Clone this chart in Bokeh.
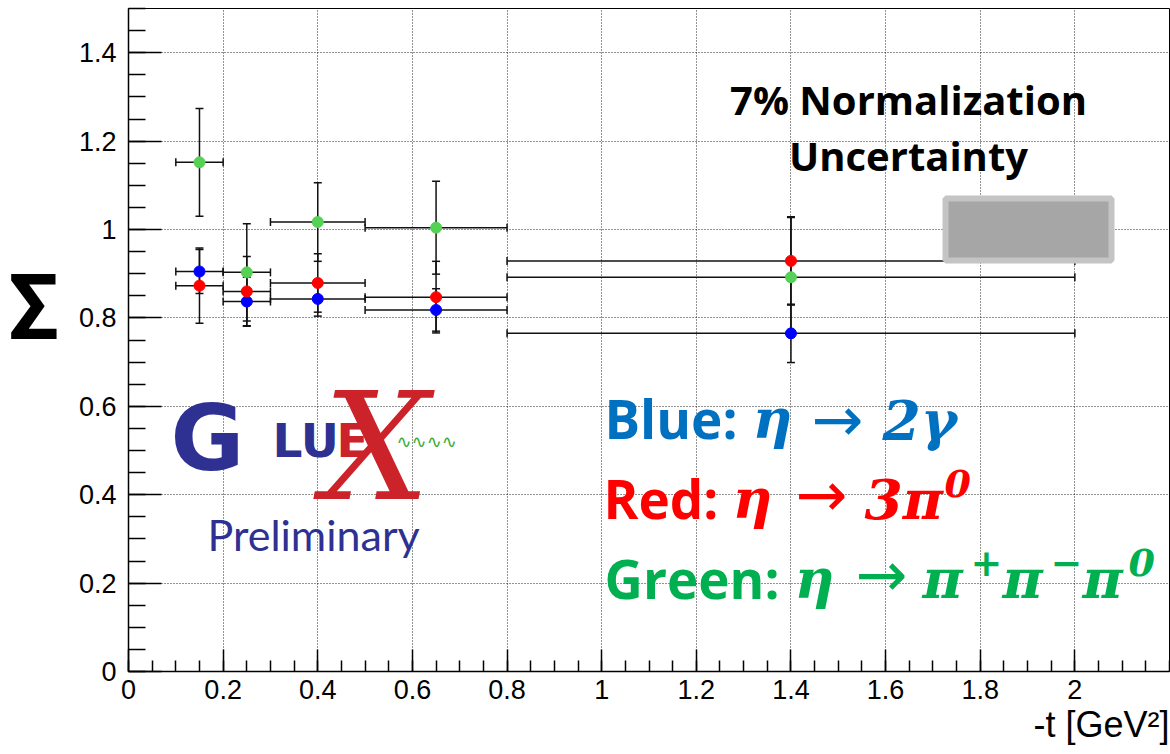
import numpy as np
from bokeh.plotting import figure
from bokeh.models import (ColumnDataSource, Whisker, TeeHead, Label, BoxAnnotation,
                          FixedTicker, CustomJSTickFormatter, Title)
from bokeh.embed import file_html
from bokeh.resources import INLINE

# ---------------- data ----------------
t_center = [0.15, 0.25, 0.40, 0.65, 1.40]
t_low = [0.10, 0.20, 0.30, 0.50, 0.80]
t_high = [0.20, 0.30, 0.50, 0.80, 2.00]

sigma_blue = [0.905, 0.837, 0.843, 0.818, 0.765]
err_blue = [0.050, 0.055, 0.039, 0.048, 0.066]

sigma_red = [0.873, 0.860, 0.879, 0.847, 0.929]
err_red = [0.085, 0.079, 0.066, 0.081, 0.100]

sigma_green = [1.152, 0.903, 1.017, 1.004, 0.892]
err_green = [0.122, 0.110, 0.089, 0.105, 0.135]

x_major = [0, 0.2, 0.4, 0.6, 0.8, 1.0, 1.2, 1.4, 1.6, 1.8, 2.0]
y_major = [0, 0.2, 0.4, 0.6, 0.8, 1.0, 1.2, 1.4]

norm_center = 1.0
norm_uncertainty = 0.07

# ---------------- layout ----------------
W, H = 1170, 754
L, R, T, B = 128, 1, 8, 83
X0, X1 = 0.0, 2.2
Y0, Y1 = 0.0, 1.5
FW, FH = W - L - R, H - T - B


def dx(px):
    return X0 + (px - L) / FW * (X1 - X0)


def dy(py):
    return Y0 + (H - B - py) / FH * (Y1 - Y0)


p = figure(width=W, height=H, x_range=(X0, X1), y_range=(Y0, Y1),
           output_backend="svg", toolbar_location=None,
           min_border_left=L, min_border_right=R, min_border_top=T, min_border_bottom=B)
p.background_fill_color = "white"
p.border_fill_color = "white"
p.outline_line_color = "black"
p.outline_line_width = 1

x_minor = [round(v, 2) for v in np.arange(0, 2.2001, 0.05)]
y_minor = [round(v, 2) for v in np.arange(0, 1.5001, 0.05)]
p.xaxis.ticker = FixedTicker(ticks=x_major, minor_ticks=x_minor)
p.yaxis.ticker = FixedTicker(ticks=y_major, minor_ticks=y_minor)
fmt = CustomJSTickFormatter(code="return (Math.round(tick*10)/10).toString();")
p.xaxis.formatter = fmt
p.yaxis.formatter = fmt

for ax in (p.xaxis[0], p.yaxis[0]):
    ax.axis_line_color = "black"
    ax.axis_line_width = 1.5
    ax.major_tick_line_color = "black"
    ax.minor_tick_line_color = "black"
    ax.major_tick_line_width = 1.5
    ax.minor_tick_line_width = 1.5
    ax.major_tick_out = 0
    ax.minor_tick_out = 0
    ax.major_label_text_font = "Liberation Sans"
    ax.major_label_text_font_size = "27px"
    ax.major_label_text_color = "black"

p.xaxis.major_tick_in = 22
p.xaxis.minor_tick_in = 11
p.xaxis.major_label_standoff = 8
p.yaxis.major_tick_in = 33
p.yaxis.minor_tick_in = 17
p.yaxis.major_label_standoff = 12

# y-axis title: big bold sigma, horizontal (a blank second line lifts it a little)
p.yaxis.axis_label = "\u03a3\n\u00a0"
p.yaxis.axis_label_orientation = "horizontal"
p.yaxis.axis_label_text_font = "Roboto"
p.yaxis.axis_label_text_font_size = "90px"
p.yaxis.axis_label_text_font_style = "bold"
p.yaxis.axis_label_text_color = "black"
p.yaxis.axis_label_text_line_height = 0.6
p.yaxis.axis_label_standoff = 17

# x-axis title, right aligned below the axis
xt = Title(text="-t [GeV\u00b2]", align="right", text_font="Liberation Sans",
           text_font_size="36px", text_font_style="normal", text_color="black",
           standoff=0, offset=0)
p.add_layout(xt, "below")

for g in (p.xgrid[0], p.ygrid[0]):
    g.grid_line_color = "black"
    g.grid_line_dash = "1 2"
    g.grid_line_width = 1
    g.grid_line_alpha = 0.85

# ---------------- error bars + markers ----------------
series = [
    (sigma_blue, err_blue, "#0000FF"),
    (sigma_red, err_red, "#FF0000"),
    (sigma_green, err_green, "#55D155"),
]

for vals, errs, col in series:
    v = np.array(vals)
    e = np.array(errs)
    src = ColumnDataSource(dict(t=t_center, tl=t_low, th=t_high, y=v, yl=v - e, yh=v + e))
    wv = Whisker(base="t", lower="yl", upper="yh", source=src, dimension="height",
                 line_color="#111111", line_width=1.5,
                 upper_head=TeeHead(size=8, line_color="#111111", line_width=1.5),
                 lower_head=TeeHead(size=8, line_color="#111111", line_width=1.5))
    wh = Whisker(base="y", lower="tl", upper="th", source=src, dimension="width",
                 line_color="#111111", line_width=1.5,
                 upper_head=TeeHead(size=8, line_color="#111111", line_width=1.5),
                 lower_head=TeeHead(size=8, line_color="#111111", line_width=1.5))
    p.add_layout(wv)
    p.add_layout(wh)

for vals, errs, col in series:
    p.scatter(t_center, vals, marker="circle", size=11, fill_color=col, line_color=col)

# ---------------- normalization box ----------------
box = BoxAnnotation(left=dx(945), right=dx(1111),
                    bottom=norm_center - norm_uncertainty, top=norm_center + norm_uncertainty,
                    fill_color="#A6A6A6", fill_alpha=1.0, line_color="#C4C4C4", line_width=6,
                    line_alpha=1.0)
p.add_layout(box)

BASE_SHIFT = 0.37  # Bokeh places the alphabetic baseline ~0.37 em lower than requested


def lab(text, px, py, font, size, color, style="bold", align="left"):
    p.add_layout(Label(x=dx(px), y=dy(py - BASE_SHIFT * size), text=text, text_font=font,
                       text_font_size=f"{size}px", text_font_style=style,
                       text_color=color, text_align=align, text_baseline="alphabetic"))


# normalization text
lab("7% Normalization", 908, 114, "Open Sans", 40, "black", align="center")
lab("Uncertainty", 908, 170, "Open Sans", 40, "black", align="center")

# legend lines
SANS = "Open Sans"
MATH = "DejaVu Serif"
ARW = "DejaVu Sans"
ASZ = 62
BLUE, RED, GREEN = "#0070C0", "#FF0000", "#00B050"

lab("Blue:", 604, 438, SANS, 53, BLUE)
lab("\u03b7", 752, 438, MATH, 55, BLUE, style="bold italic")
lab("\u2192", 811, 442, ARW, ASZ, BLUE, style="normal")
lab("2\u03b3", 882, 440, MATH, 55, BLUE, style="bold italic")

lab("Red:", 603, 518, SANS, 53, RED)
lab("\u03b7", 732, 518, MATH, 55, RED, style="bold italic")
lab("\u2192", 795, 517, ARW, ASZ, RED, style="normal")
lab("3\u03c0", 864, 519, MATH, 55, RED, style="bold italic")
lab("0", 944, 497, MATH, 38, RED, style="bold italic")

lab("Green:", 604, 598, SANS, 53, GREEN)
lab("\u03b7", 794, 598, MATH, 55, GREEN, style="bold italic")
lab("\u2192", 855, 597, ARW, ASZ, GREEN, style="normal")
lab("\u03c0", 922, 598, MATH, 55, GREEN, style="bold italic")
lab("+", 970, 576, MATH, 38, GREEN, style="bold")
lab("\u03c0", 1002, 598, MATH, 55, GREEN, style="bold italic")
lab("\u2212", 1050, 576, MATH, 38, GREEN, style="bold")
lab("\u03c0", 1082, 598, MATH, 55, GREEN, style="bold italic")
lab("0", 1128, 576, MATH, 38, GREEN, style="bold italic")

# GlueX logo (approximated with text)
GX_BLUE, GX_RED, GX_GREEN = "#2E3192", "#CC2229", "#3AAA35"
lab("G", 170, 471, "DejaVu Sans", 90, GX_BLUE)
lab("X", 376, 502, "DejaVu Serif", 150, GX_RED, style="italic", align="center")
lab("LU", 272, 457, "DejaVu Sans", 47, GX_BLUE)
lab("E", 336, 457, "DejaVu Sans", 47, GX_RED)
lab("\u223f\u223f\u223f\u223f", 396, 448, "DejaVu Sans", 18, GX_GREEN, style="normal")
lab("Preliminary", 207, 550, "Lato", 43, GX_BLUE, style="normal")

open("out.html", "w").write(file_html(p, INLINE))
